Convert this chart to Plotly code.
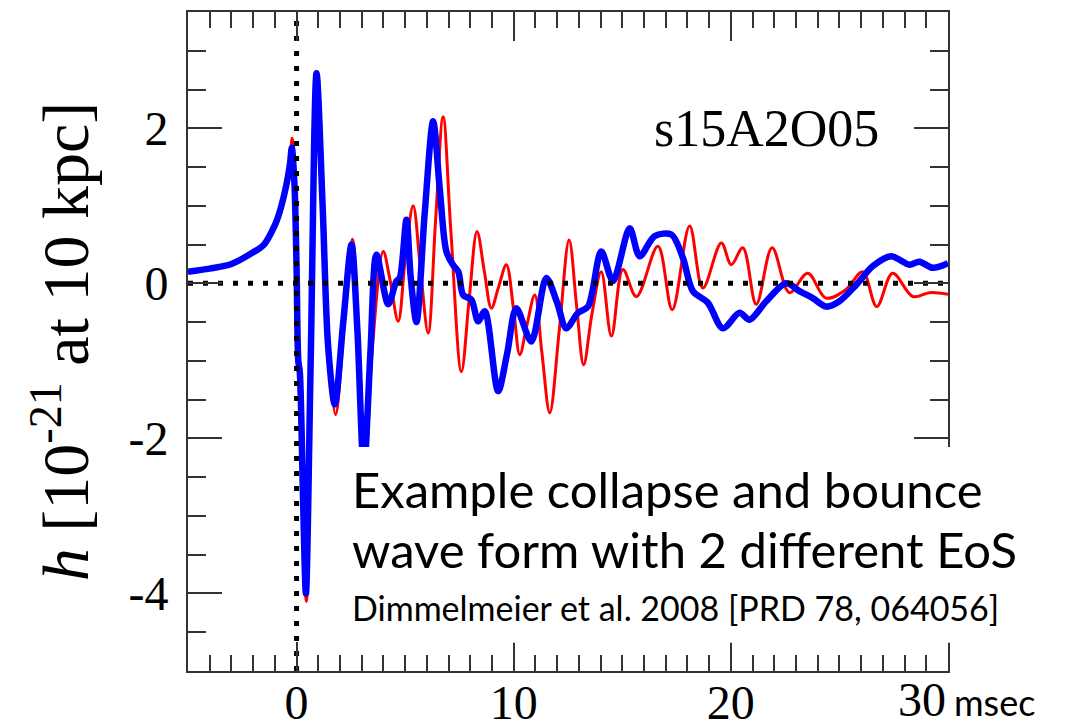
import plotly.graph_objects as go

# ---- data ----
t_red = [-5, -4, -3, -2, -1.5, -1, -0.7, -0.45, -0.3, -0.2, -0.1, 0.0, 0.1, 0.3, 0.45, 0.7,
         0.97, 1.25, 1.5, 1.8, 2.2, 2.57, 2.85, 3.15, 3.5, 3.99, 4.3, 4.68, 5.0, 5.37, 5.7,
         6.06, 6.4, 6.75, 7.1, 7.59, 7.95, 8.31, 8.65, 8.97, 9.3, 9.66, 10.0, 10.28, 10.6,
         10.97, 11.3, 11.66, 12.1, 12.55, 12.9, 13.22, 13.6, 14.03, 14.5, 15.03, 15.65,
         16.64, 17.3, 18.1, 18.71, 19.56, 20.02, 20.55, 21.17, 21.9, 22.7, 23.54, 24.38,
         25.3, 26.07, 26.72, 27.45, 28.38, 29.14, 30]
h_red = [0.15, 0.19, 0.25, 0.4, 0.52, 0.77, 1.0, 1.3, 1.6, 1.87, 1.5, 0.3, -1.1, -3.0, -4.1, -0.8,
         2.72, 1.0, -0.8, -1.69, -0.5, 0.57, -0.6, -2.4, -0.8, 0.41, 0.05, -0.49, 0.3, 1.0, 0.2,
         -0.64, 0.8, 2.15, 0.7, -1.14, -0.2, 0.67, 0.15, -0.32, -0.05, 0.24, -0.35, -0.92, -0.55,
         -0.15, -0.9, -1.67, -0.6, 0.56, -0.3, -1.05, -0.4, 0.15, -0.68, 0.18, -0.17,
         0.48, -0.34, 0.74, -0.06, 0.52, 0.24, 0.46, -0.27, 0.46, -0.12, 0.13, -0.19,
         -0.08, 0.15, -0.3, 0.13, -0.17, -0.12, -0.14]

t_blue = [-5, -4, -3, -2, -1.5, -1, -0.77, -0.47, -0.3, -0.22, -0.1, 0.0, 0.08, 0.15, 0.3, 0.43,
          0.65, 0.92, 1.2, 1.45, 1.76, 2.15, 2.53, 2.8, 3.1, 3.4, 3.68, 4.22, 4.6, 4.75, 5.06,
          5.25, 5.52, 5.9, 6.29, 6.6, 6.9, 7.2, 7.45, 7.67, 8.05, 8.36, 8.67, 9.28, 9.7, 10.12,
          10.81, 11.5, 12.0, 12.42, 12.96, 13.42, 14.03, 14.57, 15.34, 15.8, 16.49, 17.26,
          17.79, 18.25, 18.94, 19.63, 20.4, 20.86, 21.63, 22.55, 23.16, 23.77, 24.39, 25.0,
          25.77, 26.53, 27.38, 28.22, 28.68, 29.3, 30]
h_blue = [0.15, 0.19, 0.25, 0.4, 0.5, 0.75, 0.93, 1.27, 1.55, 1.75, 1.3, 0.2, -1.0, -1.15, -2.8, -4.0,
          -1.0, 2.71, 1.0, -0.8, -1.56, -0.5, 0.5, -0.6, -2.4, -0.9, 0.37, -0.27, 0.03, 0.07, 0.82,
          0.1, -0.5, 0.9, 2.09, 1.2, 0.41, 0.24, 0.15, -0.15, -0.21, -0.49, -0.36, -1.39, -0.9, -0.32,
          -0.75, 0.07, -0.25, -0.58, -0.38, -0.3, 0.41, 0.03, 0.71, 0.35, 0.61, 0.63,
          0.33, -0.1, -0.25, -0.58, -0.38, -0.47, -0.23, 0.0, -0.1, -0.19, -0.3, -0.23,
          -0.02, 0.22, 0.35, 0.24, 0.28, 0.2, 0.26]

x_range = [-5, 30]
y_range = [-5, 3.5]
x_major = [0, 10, 20]
x_major_labels = ["0", "10", "20"]
y_major = [-4, -2, 0, 2]
y_major_labels = ["-4", "-2", "0", "2"]

SERIF = "Liberation Serif, Times New Roman, serif"
SANS = "Lato, Open Sans, sans-serif"

fig = go.Figure()
fig.add_trace(go.Scatter(x=t_red, y=h_red, mode="lines",
                         line=dict(color="#ff0000", width=3, shape="spline", smoothing=1.0),
                         showlegend=False, hoverinfo="skip"))
fig.add_trace(go.Scatter(x=t_blue, y=h_blue, mode="lines",
                         line=dict(color="#0000ff", width=6.5, shape="spline", smoothing=0.85),
                         showlegend=False, hoverinfo="skip"))
# dotted reference lines
fig.add_trace(go.Scatter(x=x_range, y=[0, 0], mode="lines",
                         line=dict(color="black", width=5, dash="5px,10px"),
                         showlegend=False, hoverinfo="skip"))
fig.add_trace(go.Scatter(x=[0, 0], y=y_range, mode="lines",
                         line=dict(color="black", width=5, dash="5px,10px"),
                         showlegend=False, hoverinfo="skip"))

axis_common = dict(showgrid=False, zeroline=False, showline=True, linecolor="#333333",
                   linewidth=2, mirror="ticks", ticks="inside", tickcolor="#333333",
                   tickwidth=2, automargin=False,
                   tickfont=dict(family=SERIF, size=48, color="black"))

fig.update_xaxes(range=x_range, tickmode="array", tickvals=x_major, ticktext=x_major_labels,
                 ticklen=29, minor=dict(dtick=1, ticklen=16, tickcolor="#333333", ticks="inside",
                                        tickwidth=2, showgrid=False),
                 ticklabelstandoff=-12, **axis_common)
fig.update_yaxes(range=y_range, tickmode="array", tickvals=y_major, ticktext=y_major_labels,
                 ticklen=34, minor=dict(dtick=0.5, tick0=0, ticklen=18, tickcolor="#333333",
                                        ticks="inside", tickwidth=2, showgrid=False),
                 ticklabelstandoff=8,
                 title=dict(text="<i>h</i> [10<sup>-21</sup> at 10 kpc]",
                            font=dict(family=SERIF, size=66, color="black"), standoff=18),
                 **axis_common)

# white box behind the caption
fig.add_shape(type="rect", xref="paper", yref="paper", x0=0.207, x1=1.2, y0=0.043, y1=0.34,
              fillcolor="white", line=dict(width=0), layer="above")

annotations = [
    dict(text="s15A2O05", x=16.35, y=2.0, xanchor="left", yanchor="middle",
         font=dict(family=SERIF, size=52, color="black")),
    dict(text="Example collapse and bounce", x=2.45, y=-2.65, xanchor="left", yanchor="middle",
         font=dict(family=SANS, size=49, color="black")),
    dict(text="wave form with 2 different EoS", x=2.45, y=-3.43, xanchor="left", yanchor="middle",
         font=dict(family=SANS, size=49, color="black")),
    dict(text="Dimmelmeier et al. 2008 [PRD 78, 064056]", x=2.45, y=-4.18, xanchor="left",
         yanchor="middle", font=dict(family=SANS, size=34, color="black")),
]
for a in annotations:
    fig.add_annotation(xref="x", yref="y", showarrow=False, **a)

fig.add_annotation(text="30", x=30, xref="x", y=0.0, yref="paper", xanchor="right",
                   yanchor="top", showarrow=False, font=dict(family=SERIF, size=48, color="black"))
fig.add_annotation(text="msec", x=30, xref="x", y=-0.01, yref="paper", xanchor="left",
                   yanchor="top", xshift=4, showarrow=False,
                   font=dict(family=SANS, size=36, color="black"))

fig.update_layout(width=1088, height=728, margin=dict(l=188, r=140, t=12, b=57),
                  plot_bgcolor="white", paper_bgcolor="white")

fig.write_html("out.html")
